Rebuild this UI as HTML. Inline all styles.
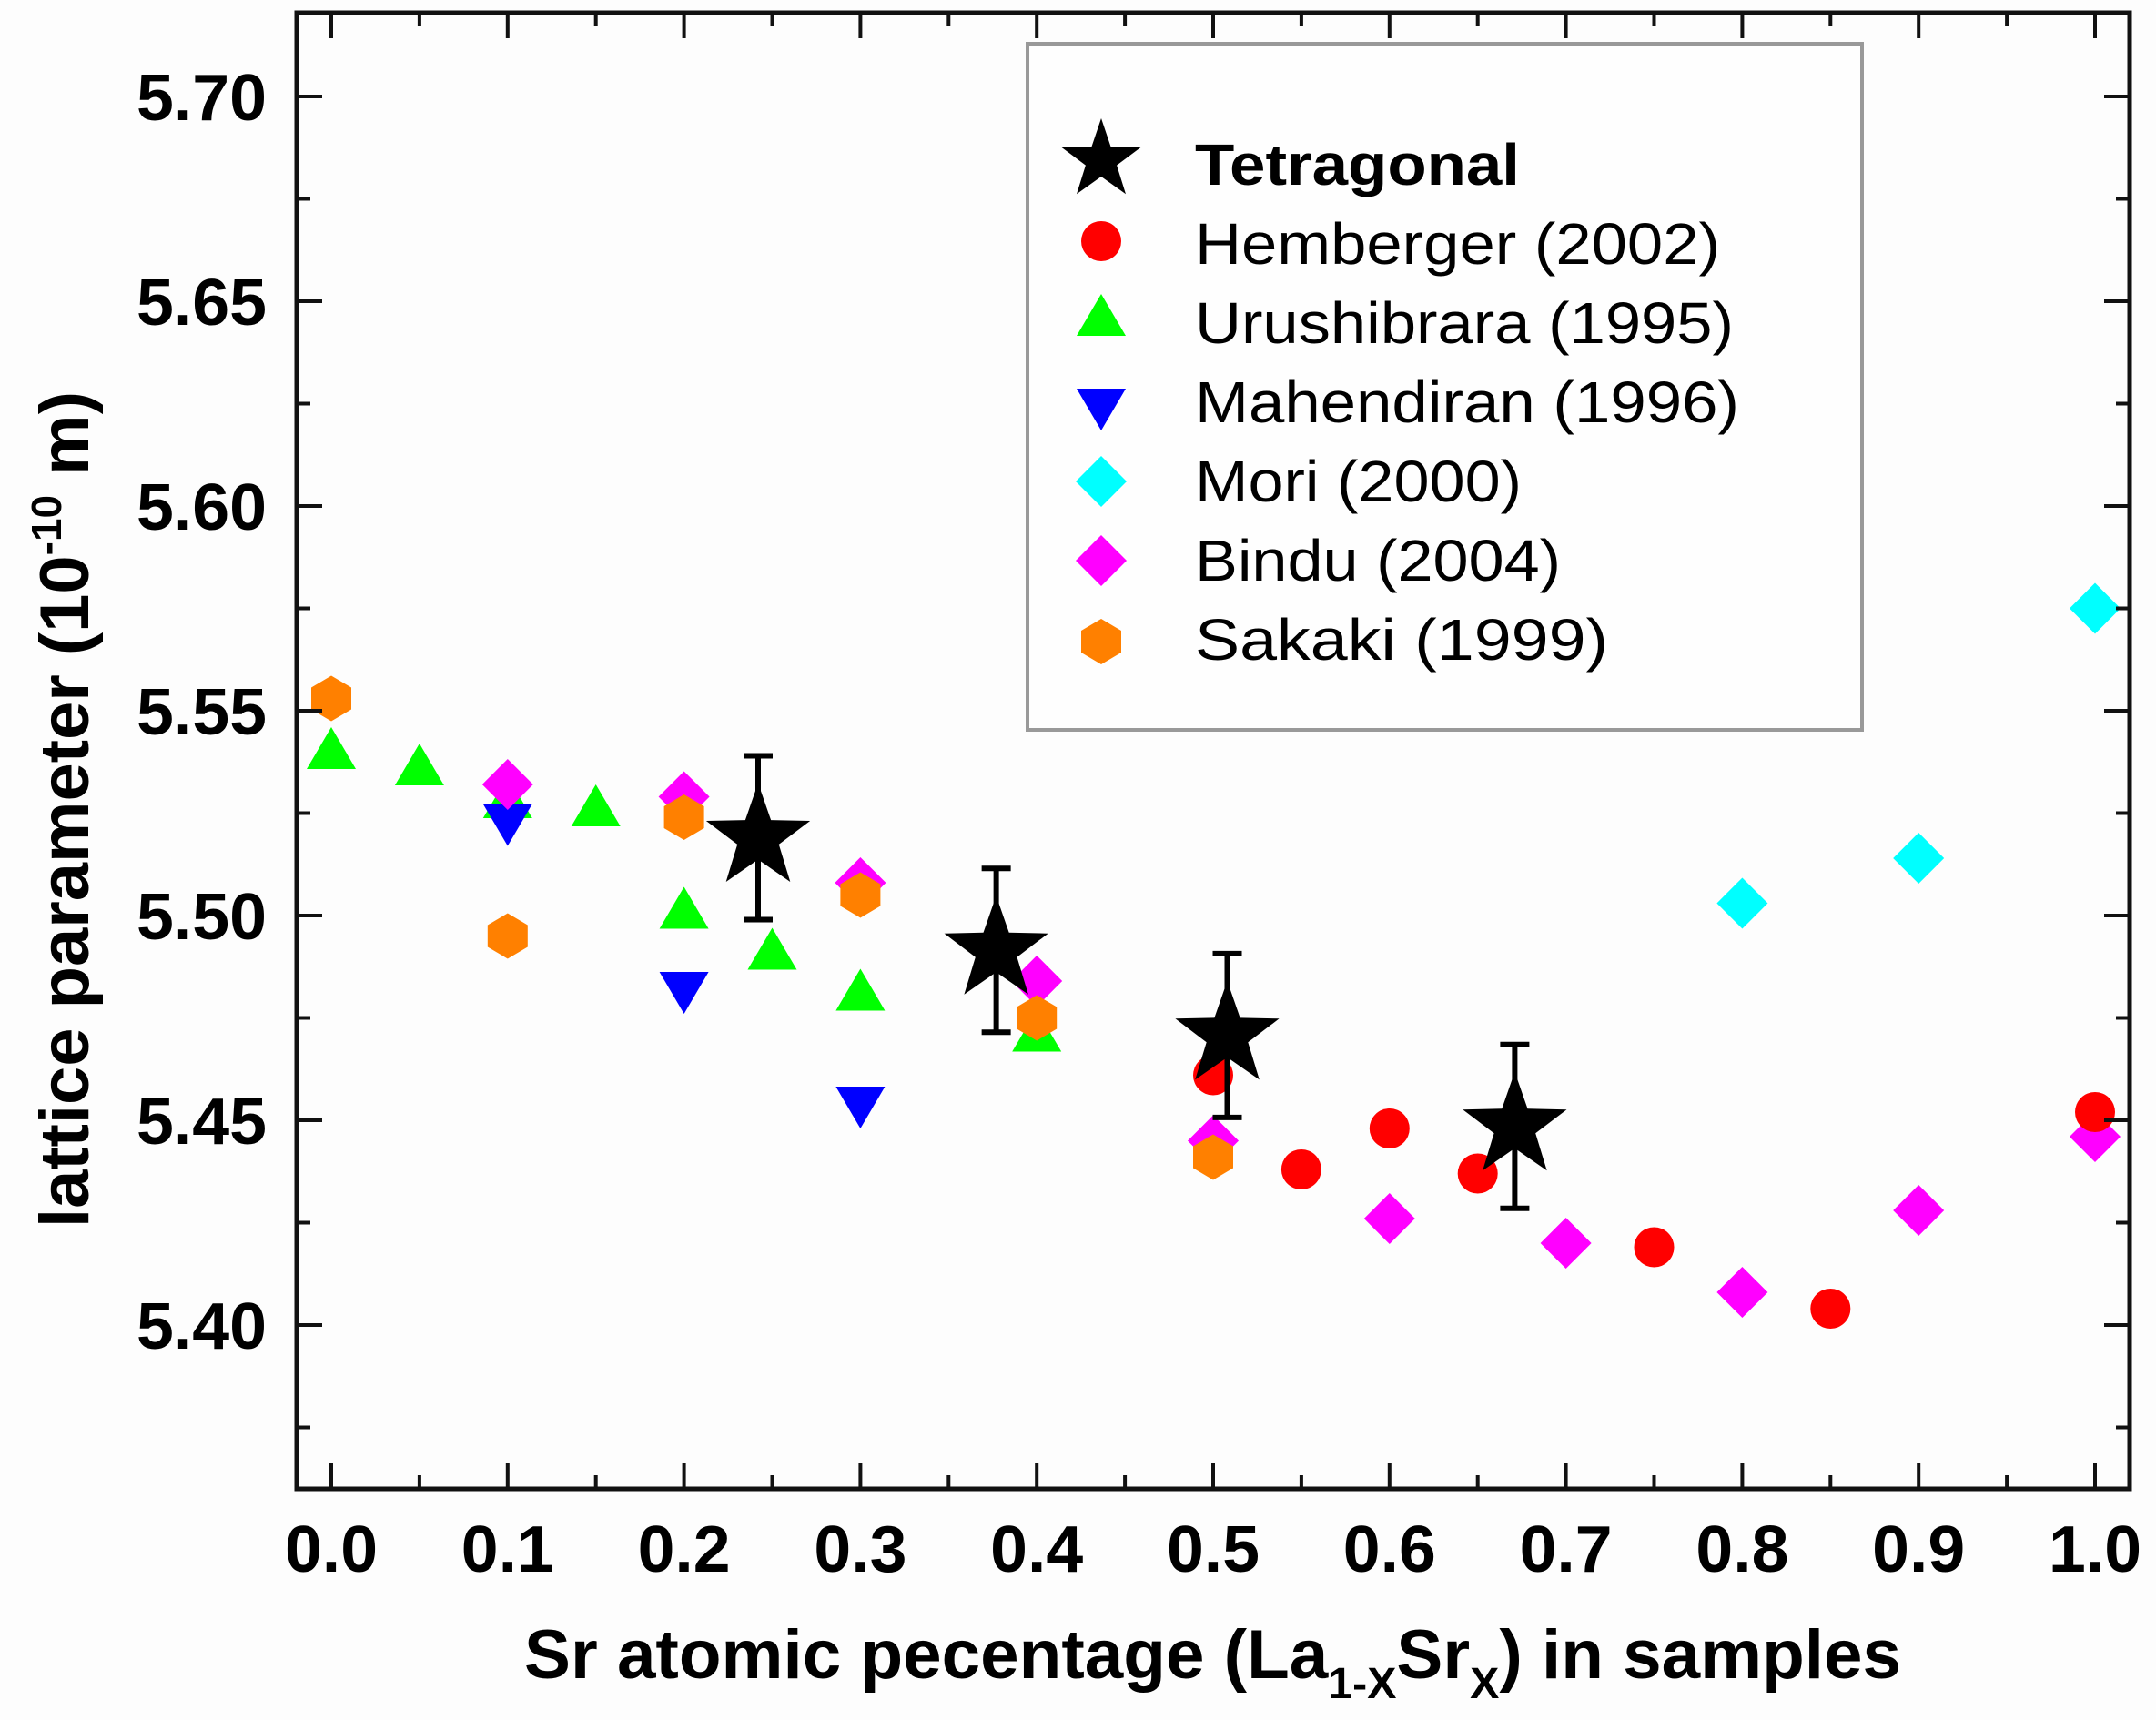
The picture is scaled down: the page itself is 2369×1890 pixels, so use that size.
<!DOCTYPE html>
<html><head><meta charset="utf-8">
<style>html,body{margin:0;padding:0;background:#fdfdfd;}svg{display:block;font-family:"Liberation Sans",Arial,sans-serif;}</style>
</head><body>
<svg id="chart" xmlns="http://www.w3.org/2000/svg" width="2369" height="1890" viewBox="0 0 2369 1890">
<rect x="0" y="0" width="2369" height="1890" fill="#fdfdfd"/>
<g id="plot"></g>
<g id="axes"></g>
<g id="legend"></g>
<text x="576" y="1844" font-size="76" font-weight="bold" textLength="1513" lengthAdjust="spacingAndGlyphs">Sr atomic pecentage (La<tspan font-size="48" dy="22">1-X</tspan><tspan dy="-22">Sr</tspan><tspan font-size="48" dy="22">X</tspan><tspan dy="-22">) in samples</tspan></text>
<text transform="translate(97,1349) rotate(-90)" x="0" y="0" font-size="76" font-weight="bold" textLength="919" lengthAdjust="spacingAndGlyphs">lattice parameter (10<tspan font-size="46" dy="-30">-10</tspan><tspan dy="30"> m)</tspan></text>
</svg>
<script>
const NS="http://www.w3.org/2000/svg";
// ---- data ----
const xTicks=[0.0,0.1,0.2,0.3,0.4,0.5,0.6,0.7,0.8,0.9,1.0];
const xTickLabels=["0.0","0.1","0.2","0.3","0.4","0.5","0.6","0.7","0.8","0.9","1.0"];
const yTicks=[5.40,5.45,5.50,5.55,5.60,5.65,5.70];
const yTickLabels=["5.40","5.45","5.50","5.55","5.60","5.65","5.70"];
const hembergerX=[0.5,0.55,0.6,0.65,0.75,0.85,1.0];
const hembergerY=[5.461,5.438,5.448,5.437,5.419,5.404,5.452];
const urushibaraX=[0.0,0.05,0.1,0.15,0.2,0.25,0.3,0.4];
const urushibaraY=[5.540,5.536,5.528,5.526,5.501,5.491,5.481,5.471];
const mahendiranX=[0.1,0.2,0.3];
const mahendiranY=[5.523,5.482,5.454];
const moriX=[0.8,0.9,1.0];
const moriY=[5.503,5.514,5.575];
const binduX=[0.1,0.2,0.3,0.4,0.5,0.6,0.7,0.8,0.9,1.0];
const binduY=[5.532,5.529,5.508,5.484,5.445,5.426,5.420,5.408,5.428,5.446];
const sakakiX=[0.0,0.1,0.2,0.3,0.4,0.5];
const sakakiY=[5.553,5.495,5.524,5.505,5.475,5.441];
const tetraX=[0.242,0.377,0.508,0.671];
const tetraY=[5.519,5.4915,5.4707,5.4485];
const tetraErr=[0.020,0.020,0.020,0.020];

// ---- scales ----
const L=326,R=2340,T=14,B=1636;
const xMin=-0.0188,xMax=1.0196,yMin=5.3598,yMax=5.7207;
function sx(v){return 364+(v-0)*1938;}
function sy(v){return 1456-(v-5.40)*4500;}

function mk(tag,attrs,parent){const e=document.createElementNS(NS,tag);for(const k in attrs)e.setAttribute(k,attrs[k]);parent.appendChild(e);return e;}
function starPts(cx,cy,ro,ri){let p=[];for(let i=0;i<10;i++){const r=i%2?ri:ro;const a=-Math.PI/2+i*Math.PI/5;p.push((cx+r*Math.cos(a)).toFixed(1)+","+(cy+r*Math.sin(a)).toFixed(1));}return p.join(" ");}
function shape(kind,cx,cy,parent){
  let e;
  if(kind==="circle") e=mk("circle",{cx:cx,cy:cy,r:22,fill:"#ff0000"},parent);
  else if(kind==="up") e=mk("polygon",{points:`${cx},${cy-27} ${cx+27},${cy+19} ${cx-27},${cy+19}`,fill:"#00ff00"},parent);
  else if(kind==="down") e=mk("polygon",{points:`${cx-27},${cy-19} ${cx+27},${cy-19} ${cx},${cy+27}`,fill:"#0000ff"},parent);
  else if(kind==="cyan") e=mk("polygon",{points:`${cx},${cy-28} ${cx+28},${cy} ${cx},${cy+28} ${cx-28},${cy}`,fill:"#00ffff"},parent);
  else if(kind==="mag") e=mk("polygon",{points:`${cx},${cy-28} ${cx+28},${cy} ${cx},${cy+28} ${cx-28},${cy}`,fill:"#ff00ff"},parent);
  else if(kind==="hex") e=mk("polygon",{points:`${cx},${cy-25} ${cx+22},${cy-12} ${cx+22},${cy+12} ${cx},${cy+25} ${cx-22},${cy+12} ${cx-22},${cy-12}`,fill:"#ff8000"},parent);
  else if(kind==="star") e=mk("polygon",{points:starPts(cx,cy,60,24),fill:"#000"},parent);
  return e;
}

const plot=document.getElementById("plot");
const axes=document.getElementById("axes");
const legend=document.getElementById("legend");

// axes frame
const fr=mk("rect",{x:L,y:T,width:R-L,height:B-T,fill:"none",stroke:"#111","stroke-width":5},axes);



// x ticks
for(let i=0;i<xTicks.length;i++){
  const x=sx(xTicks[i]);
  const t1=mk("line",{x1:x,y1:B,x2:x,y2:B-28,stroke:"#111","stroke-width":4},axes);
  
  
  const t2=mk("line",{x1:x,y1:T,x2:x,y2:T+28,stroke:"#111","stroke-width":4},axes);
  
  
  if(i<xTicks.length-1){
    const xm=sx(xTicks[i]+0.05);
    const m1=mk("line",{x1:xm,y1:B,x2:xm,y2:B-15,stroke:"#111","stroke-width":4},axes);
    
    
    const m2=mk("line",{x1:xm,y1:T,x2:xm,y2:T+15,stroke:"#111","stroke-width":4},axes);
    
    
  }
  const lb=mk("text",{x:x,y:1727,"font-size":72,"font-weight":"bold","text-anchor":"middle",textLength:102,lengthAdjust:"spacingAndGlyphs"},axes);
  lb.textContent=xTickLabels[i];
  
  
}
// y ticks
const yMinor=[5.375,5.425,5.475,5.525,5.575,5.625,5.675];
for(let i=0;i<yTicks.length;i++){
  const y=sy(yTicks[i]);
  const t1=mk("line",{x1:L,y1:y,x2:L+28,y2:y,stroke:"#111","stroke-width":4},axes);
  
  
  const t2=mk("line",{x1:R,y1:y,x2:R-28,y2:y,stroke:"#111","stroke-width":4},axes);
  
  
  const lb=mk("text",{x:293,y:y+26,"font-size":72,"font-weight":"bold","text-anchor":"end",textLength:143,lengthAdjust:"spacingAndGlyphs"},axes);
  lb.textContent=yTickLabels[i];
  
  
}
for(const v of yMinor){
  const y=sy(v);
  const m1=mk("line",{x1:L,y1:y,x2:L+15,y2:y,stroke:"#111","stroke-width":4},axes);
  
  
  const m2=mk("line",{x1:R,y1:y,x2:R-15,y2:y,stroke:"#111","stroke-width":4},axes);
  
  
}

// series
function drawSeries(xs,ys,kind,name){
  for(let i=0;i<xs.length;i++){
    const e=shape(kind,sx(xs[i]),sy(ys[i]),plot);
    
    
  }
}
drawSeries(urushibaraX,urushibaraY,"up","urushibara");
drawSeries(mahendiranX,mahendiranY,"down","mahendiran");
drawSeries(moriX,moriY,"cyan","mori");
drawSeries(binduX,binduY,"mag","bindu");
drawSeries(sakakiX,sakakiY,"hex","sakaki");
drawSeries(hembergerX,hembergerY,"circle","hemberger");
for(let i=0;i<tetraX.length;i++){
  const x=sx(tetraX[i]),y1=sy(tetraY[i]+tetraErr[i]),y2=sy(tetraY[i]-tetraErr[i]);
  const eb=mk("path",{d:`M${x},${y1}V${y2}M${x-16},${y1}H${x+16}M${x-16},${y2}H${x+16}`,stroke:"#000","stroke-width":6,fill:"none"},plot);
  
  
  const s=shape("star",x,sy(tetraY[i]),plot);
  
  
}

// legend
const lbox=mk("rect",{x:1129,y:48,width:917,height:754,fill:"#fefefe",stroke:"#999","stroke-width":4},legend);


const legKinds=["star","circle","up","down","cyan","mag","hex"];
const legNames=["Tetragonal","Hemberger (2002)","Urushibrara (1995)","Mahendiran (1996)","Mori (2000)","Bindu (2004)","Sakaki  (1999)"];
const legWidths=[357,577,592,598,359,402,454];
const legMarkY=[176,265,350,446,529,616,705];
const legBase=[203,290,377,464,551,638,725];
for(let i=0;i<legNames.length;i++){
  const g=mk("g",{},legend);
  
  
  let m;
  if(legKinds[i]==="star"){m=mk("polygon",{points:starPts(1210,legMarkY[i],46,18),fill:"#000"},g);}
  else m=shape(legKinds[i],1210,legMarkY[i],g);
  
  
  const t=mk("text",{x:1313,y:legBase[i],"font-size":i===0?64:64,"font-weight":i===0?"bold":"normal",textLength:legWidths[i],lengthAdjust:"spacingAndGlyphs","xml:space":"preserve"},g);
  t.textContent=legNames[i];
  
  
}
</script>
</body></html>
